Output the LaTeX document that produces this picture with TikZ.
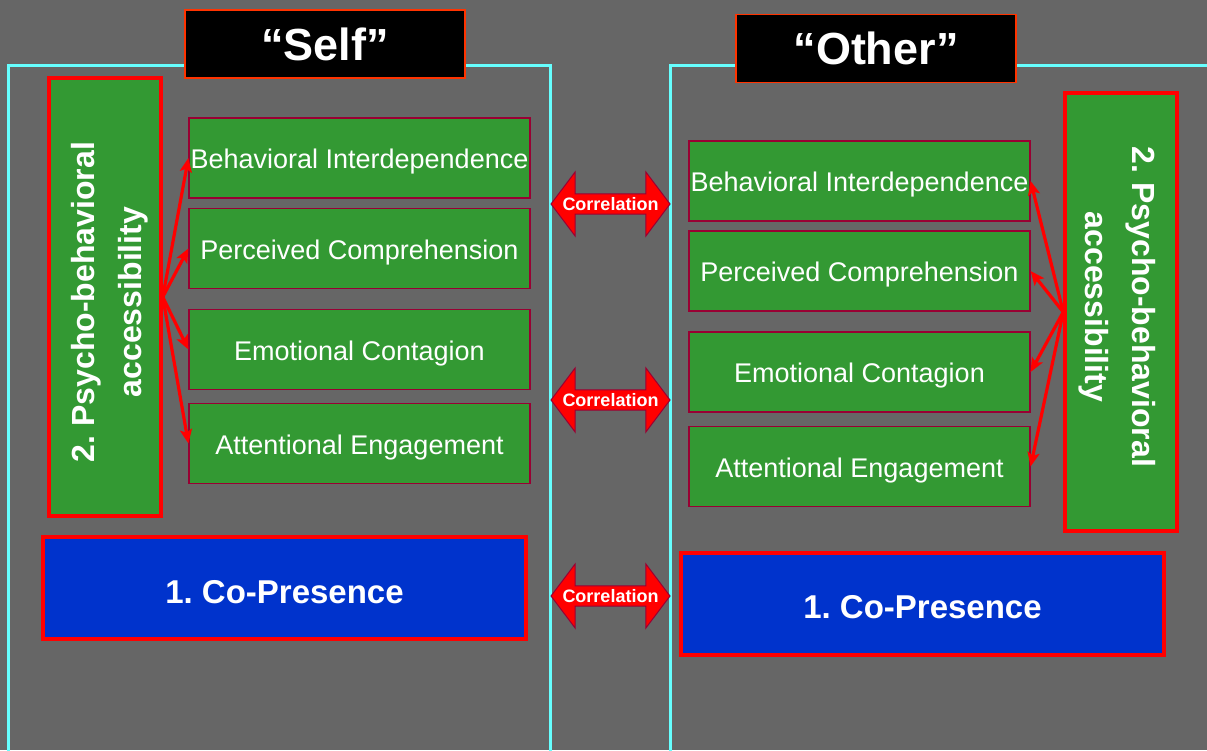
\documentclass[tikz,border=0pt]{standalone}
\usepackage{fontspec}
\setmainfont{Liberation Sans}
\usetikzlibrary{shapes.arrows,arrows.meta}
\definecolor{bg}{HTML}{666666}
\definecolor{panel}{HTML}{66FFFF}
\definecolor{gbox}{HTML}{339933}
\definecolor{bbox}{HTML}{0033CC}
\definecolor{dred}{HTML}{990033}
\definecolor{tred}{HTML}{FF3300}
\begin{document}
\frenchspacing
\begin{tikzpicture}[x=1pt,y=-1pt,
  panelline/.style={draw=panel,line width=3pt},
  titlebox/.style={draw=tred,line width=1.2pt,fill=black,text=white,inner sep=0pt,
    minimum width=280pt,minimum height=68pt,font=\bfseries\fontsize{45}{50}\selectfont},
  itembox/.style={draw=dred,line width=1.2pt,fill=gbox,text=white,inner sep=0pt,
    minimum width=341pt,minimum height=80pt,text height=26pt,text depth=5pt,font=\fontsize{27}{32}\selectfont},
  vbox/.style={draw=red,line width=3.5pt,fill=gbox,inner sep=0pt,minimum width=112pt,minimum height=438pt},
  vtext/.style={text=white,align=center,font=\bfseries\fontsize{32}{47}\selectfont,inner sep=0pt},
  copbox/.style={draw=red,line width=4pt,fill=bbox,text=white,inner sep=0pt,
    minimum width=483pt,minimum height=102pt,text height=32pt,text depth=2pt,font=\bfseries\fontsize{33}{38}\selectfont},
  corr/.style={shape=double arrow,draw=dred,line width=1pt,fill=red,text=white,
    double arrow head extend=15.5pt,double arrow tip angle=106,inner sep=0pt,
    minimum height=119pt,minimum width=64pt,font=\bfseries\fontsize{18}{20}\selectfont},
  link/.style={draw=red,line width=3.2pt,-{Stealth[length=14pt,width=12pt,inset=3pt]}}
]
\useasboundingbox (0,0) rectangle (1207,750);
\fill[bg] (0,0) rectangle (1207,750);

% panels
\coordinate (lp1) at (8,752);
\coordinate (lp2) at (8,65);
\coordinate (lp3) at (550,65);
\coordinate (lp4) at (550,752);
\draw[panelline] (lp1) -- (lp2) -- (lp3) -- (lp4);
\coordinate (rp1) at (670,752);
\coordinate (rp2) at (670,65);
\coordinate (rp3) at (1210,65);
\draw[panelline] (rp1) -- (rp2) -- (rp3);

% titles
\node[titlebox] (tself) at (325,44) {“Self”};
\node[titlebox] (tother) at (876,48.5) {“Other”};

% left side
\node[vbox] (lv) at (105,297) {};
\node[vtext,rotate=90] (lvt) at (110,302) {2. Psycho-behavioral\\accessibility};
\node[itembox] (l1) at (359.5,158) {Behavioral Interdependence};
\node[itembox] (l2) at (359.5,248.5) {Perceived Comprehension};
\node[itembox] (l3) at (359.5,349.5) {Emotional Contagion};
\node[itembox] (l4) at (359.5,443.5) {Attentional Engagement};
\node[copbox] (lc) at (284.5,588) {1. Co-Presence};

\draw[link] (lv.east) -- (l1.west);
\draw[link] (lv.east) -- (l2.west);
\draw[link] (lv.east) -- (l3.west);
\draw[link] (lv.east) -- (l4.west);

% right side
\node[vbox] (rv) at (1121,312) {};
\node[vtext,rotate=-90] (rvt) at (1117,307) {2. Psycho-behavioral\\accessibility};
\node[itembox] (r1) at (859.5,181) {Behavioral Interdependence};
\node[itembox] (r2) at (859.5,271) {Perceived Comprehension};
\node[itembox] (r3) at (859.5,372) {Emotional Contagion};
\node[itembox] (r4) at (859.5,466.5) {Attentional Engagement};
\node[copbox] (rc) at (922.5,603.5) {1. Co-Presence};

\draw[link] (rv.west) -- (r1.east);
\draw[link] (rv.west) -- (r2.east);
\draw[link] (rv.west) -- (r3.east);
\draw[link] (rv.west) -- (r4.east);

% correlations
\node[corr] (c1) at (610.5,204) {Correlation};
\node[corr] (c2) at (610.5,400) {Correlation};
\node[corr] (c3) at (610.5,596) {Correlation};
\end{tikzpicture}
\end{document}
